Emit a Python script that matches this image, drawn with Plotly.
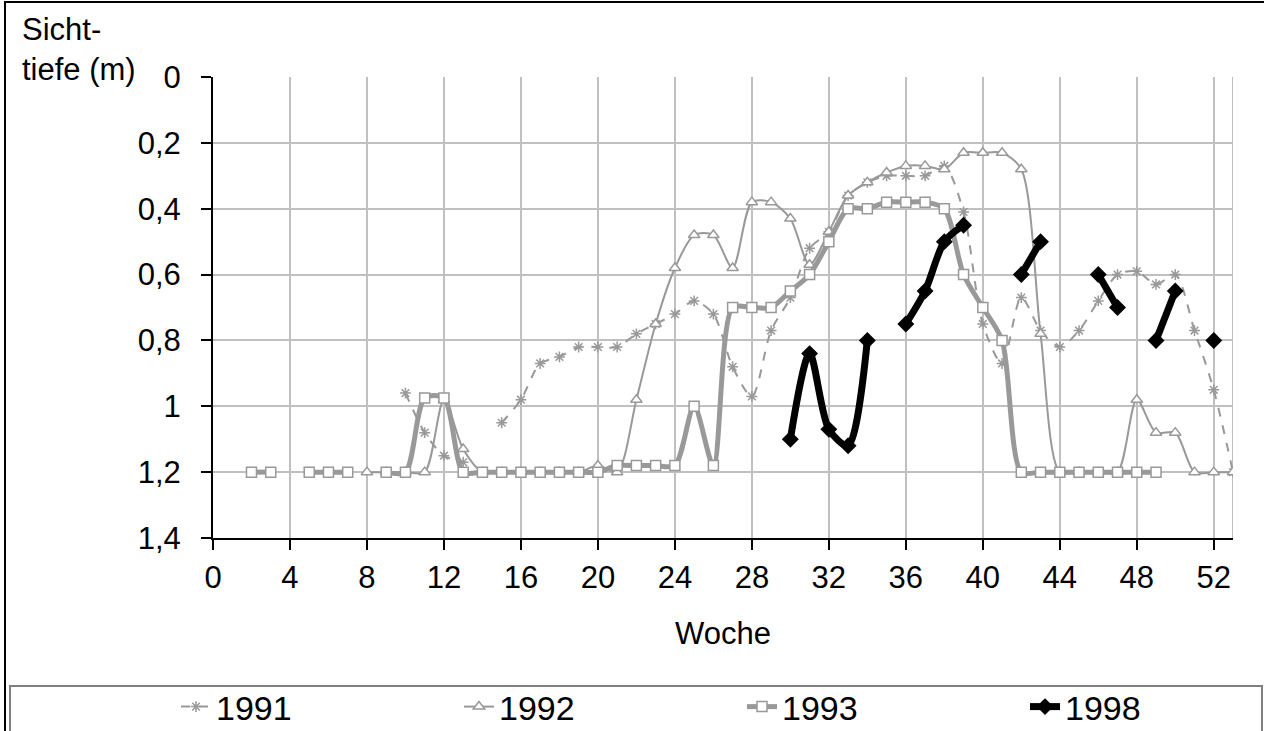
import plotly.graph_objects as go

weeks = list(range(1, 54))

y1991 = [None, None, None, None, None, None, None, None, None,
         0.96, 1.08, 1.15, 1.17, None, 1.05, 0.98, 0.87, 0.85, 0.82, 0.82,
         0.82, 0.78, 0.75, 0.72, 0.68, 0.72, 0.88, 0.97, 0.77, 0.67,
         0.52, 0.47, 0.36, 0.32, 0.30, 0.30, 0.30, 0.27, 0.41, 0.75,
         0.87, 0.67, 0.77, 0.82, 0.77, 0.68, 0.60, 0.59, 0.63, 0.60,
         0.77, 0.95, 1.20]

y1992 = [None, None, None, None, None, None, None,
         1.20, 1.20, 1.20, 1.20, 0.98, 1.13, 1.20, 1.20, 1.20, 1.20, 1.20, 1.20, 1.18,
         1.20, 0.98, 0.75, 0.58, 0.48, 0.48, 0.58, 0.38, 0.38, 0.43,
         0.57, 0.47, 0.36, 0.32, 0.29, 0.27, 0.27, 0.28, 0.23, 0.23,
         0.23, 0.28, 0.78, 1.20, 1.20, 1.20, 1.20, 0.98, 1.08, 1.08,
         1.20, 1.20, 1.20]

y1993 = [None, 1.20, 1.20, None, 1.20, 1.20, 1.20, None, 1.20, 1.20,
         0.975, 0.975, 1.20, 1.20, 1.20, 1.20, 1.20, 1.20, 1.20, 1.20,
         1.18, 1.18, 1.18, 1.18, 1.00, 1.18, 0.70, 0.70, 0.70, 0.65,
         0.60, 0.50, 0.40, 0.40, 0.38, 0.38, 0.38, 0.40, 0.60, 0.70,
         0.80, 1.20, 1.20, 1.20, 1.20, 1.20, 1.20, 1.20, 1.20, None,
         None, None, None]

y1998 = [None] * 29 + [1.10, 0.84, 1.07, 1.12, 0.80, None, 0.75, 0.65, 0.50, 0.45,
                       None, None, 0.60, 0.50, None, None, 0.60, 0.70, None, 0.80,
                       0.65, None, 0.80]

y_ticks = [0, 0.2, 0.4, 0.6, 0.8, 1.0, 1.2, 1.4]
y_ticklabels = ["0", "0,2", "0,4", "0,6", "0,8", "1", "1,2", "1,4"]
x_ticks = list(range(0, 53, 4))

GRAY = "#999999"
FONT = "Liberation Sans, Arial, sans-serif"

fig = go.Figure()
fig.add_trace(go.Scatter(
    x=weeks, y=y1991, name="1991", mode="lines+markers",
    line=dict(color=GRAY, width=2, dash="dash", shape="spline", smoothing=0.8),
    marker=dict(symbol="asterisk-open", size=9, color=GRAY, line=dict(color=GRAY, width=1.5)),
    connectgaps=False))
fig.add_trace(go.Scatter(
    x=weeks, y=y1992, name="1992", mode="lines+markers",
    line=dict(color=GRAY, width=2, shape="spline", smoothing=0.8),
    marker=dict(symbol="triangle-up", size=10, color="white", line=dict(color=GRAY, width=1.5)),
    connectgaps=False))
fig.add_trace(go.Scatter(
    x=weeks, y=y1993, name="1993", mode="lines+markers",
    line=dict(color=GRAY, width=5, shape="spline", smoothing=0.8),
    marker=dict(symbol="square", size=10, color="white", line=dict(color=GRAY, width=1.5)),
    connectgaps=False))
fig.add_trace(go.Scatter(
    x=weeks, y=y1998, name="1998", mode="lines+markers",
    line=dict(color="black", width=7, shape="spline", smoothing=0.8),
    marker=dict(symbol="diamond", size=13, color="black"),
    connectgaps=False))

W, H = 1264, 731
L, R, T, B = 213, 31, 77, 193
pw, ph = W - L - R, H - T - B

def px(x):
    return (x - L) / pw

def py(y):
    return (H - B - y) / ph

shapes = [
    dict(type="rect", xref="paper", yref="paper", x0=px(5), x1=px(1275), y0=py(745), y1=py(2),
         line=dict(color="black", width=2), fillcolor="rgba(0,0,0,0)", layer="below"),
    dict(type="rect", xref="paper", yref="paper", x0=px(10), x1=px(1262), y0=py(745), y1=py(686),
         line=dict(color="#808080", width=2), fillcolor="rgba(0,0,0,0)", layer="below"),
    dict(type="line", xref="x", yref="paper", x0=53, x1=53, y0=0, y1=1,
         line=dict(color="#c0c0c0", width=2), layer="below"),
]

fig.update_layout(
    width=W, height=H,
    margin=dict(l=L, r=R, t=T, b=B, pad=0, autoexpand=False),
    paper_bgcolor="white", plot_bgcolor="white",
    font=dict(family=FONT, size=31, color="black"),
    showlegend=True,
    hovermode=False,
    legend=dict(orientation="h", x=px(176), y=py(678), xanchor="left", yanchor="top",
                entrywidth=238, entrywidthmode="pixels",
                font=dict(size=34), bgcolor="rgba(0,0,0,0)", borderwidth=0,
                traceorder="normal"),
    shapes=shapes,
    annotations=[dict(text="Sicht-<br>tiefe (m)", xref="paper", yref="paper",
                      x=px(20), y=py(10), xanchor="left", yanchor="top", align="left",
                      showarrow=False, font=dict(size=31))],
    xaxis=dict(range=[0, 53], tickvals=x_ticks, showgrid=True, gridcolor="#c0c0c0", gridwidth=2,
               showline=True, linecolor="black", linewidth=2, ticks="outside", ticklen=10,
               tickcolor="black", tickwidth=2, zeroline=False, ticklabelstandoff=1,
               title=dict(text="Woche", standoff=28, font=dict(size=31))),
    yaxis=dict(range=[1.4, 0], tickvals=y_ticks, ticktext=y_ticklabels, showgrid=True,
               gridcolor="#c0c0c0", gridwidth=2, showline=True, linecolor="black", linewidth=2,
               ticks="outside", ticklen=10, tickcolor="black", tickwidth=2, zeroline=False,
               ticklabelstandoff=14),
)

fig.write_html("out.html", config={"displayModeBar": False},
               post_script="document.body.style.margin='0';")
